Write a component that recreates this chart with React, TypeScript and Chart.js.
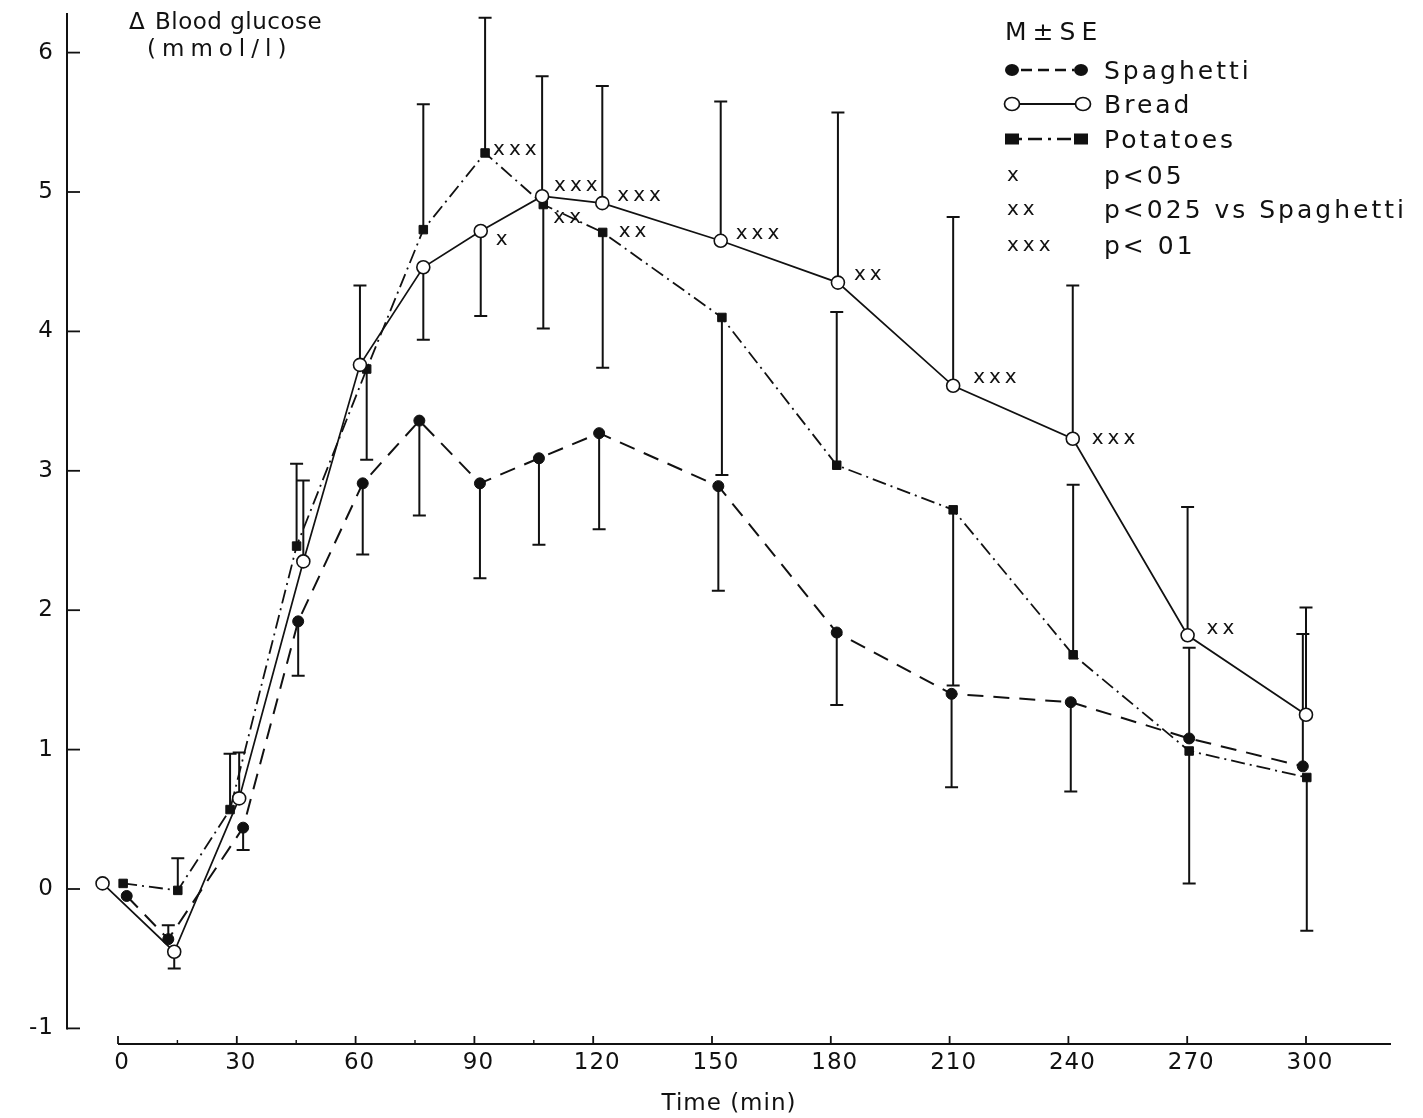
import { useEffect, useRef } from 'react';
import { Chart, registerables } from 'chart.js';

Chart.register(...registerables);

// ---------------- data ----------------
const seriesNames = ['Spaghetti', 'Bread', 'Potatoes'];

const spaghettiTime = [2.2, 12.7, 31.6, 45.5, 61.8, 76.1, 91.4, 106.3, 121.5, 151.6, 181.5, 210.5, 240.6, 270.5, 299.2];
const spaghettiValue = [-0.05, -0.36, 0.44, 1.92, 2.91, 3.36, 2.91, 3.09, 3.27, 2.89, 1.84, 1.4, 1.34, 1.08, 0.88];
const spaghettiErrUp = [0, 0.1, 0, 0, 0, 0, 0, 0, 0, 0, 0, 0, 0, 0.65, 0.95];
const spaghettiErrDown = [0, 0, 0.16, 0.39, 0.51, 0.68, 0.68, 0.62, 0.69, 0.75, 0.52, 0.67, 0.64, 0, 0];

const breadTime = [-3.9, 14.2, 30.6, 46.8, 61.1, 77.1, 91.6, 107.1, 122.3, 152.2, 181.8, 210.9, 241.1, 270.1, 300.0];
const breadValue = [0.04, -0.45, 0.65, 2.35, 3.76, 4.46, 4.72, 4.97, 4.92, 4.65, 4.35, 3.61, 3.23, 1.82, 1.25];
const breadErrUp = [0, 0, 0.33, 0.58, 0.57, 0, 0, 0.86, 0.84, 1.0, 1.22, 1.21, 1.1, 0.92, 0.77];
const breadErrDown = [0, 0.12, 0, 0, 0, 0.52, 0.61, 0, 0, 0, 0, 0, 0, 0, 0];

const potatoesTime = [1.3, 15.1, 28.3, 45.1, 62.8, 77.1, 92.7, 107.4, 122.4, 152.5, 181.5, 210.9, 241.2, 270.5, 300.2];
const potatoesValue = [0.04, -0.01, 0.57, 2.46, 3.73, 4.73, 5.28, 4.91, 4.71, 4.1, 3.04, 2.72, 1.68, 0.99, 0.8];
const potatoesErrUp = [0, 0.23, 0.4, 0.59, 0, 0.9, 0.97, 0, 0, 0, 1.1, 0, 1.22, 0, 0];
const potatoesErrDown = [0, 0, 0, 0, 0.65, 0, 0, 0.89, 0.97, 1.13, 0, 1.26, 0, 0.95, 1.1];

const xTickValues = [0, 30, 60, 90, 120, 150, 180, 210, 240, 270, 300];
const xMinorTickValues = [15, 45, 75, 105];
const yTickValues = [-1, 0, 1, 2, 3, 4, 5, 6];

const xAxisTitle = 'Time (min)';
const yAxisTitleSymbol = 'Δ';
const yAxisTitleLine1 = 'Blood glucose';
const yAxisTitleLine2 = '(mmol/l)';

const legendHeader = 'M±SE';
const sigSymbols = ['x', 'xx', 'xxx'];
const sigTexts = ['p<05', 'p<025 vs Spaghetti', 'p< 01'];

// significance marks next to points: series index, point index, number of x's
const sigMarkSeries = [2, 1, 1, 2, 1, 2, 1, 1, 1, 1, 1];
const sigMarkIndex = [6, 6, 7, 7, 8, 8, 9, 10, 11, 12, 13];
const sigMarkLevel = [3, 1, 3, 2, 3, 2, 3, 2, 3, 3, 2];

// ---------------- layout / style ----------------
const W = 1423;
const H = 1118;
const INK = '#111111';
const FONT = '"DejaVu Sans", "Liberation Sans", sans-serif';

const AREA_LEFT = 67;
const AREA_RIGHT = 1391;
const AREA_TOP = 13;
const AREA_BOTTOM = 1044;
const X0_PX = 118; // pixel of t = 0
const X_PX_PER_MIN = 3.96;
const Y0_PX = 889; // pixel of value 0
const Y_PX_PER_UNIT = 139.4;

const X_MIN = (AREA_LEFT - X0_PX) / X_PX_PER_MIN;
const X_MAX = (AREA_RIGHT - X0_PX) / X_PX_PER_MIN;
const Y_MAX = (Y0_PX - AREA_TOP) / Y_PX_PER_UNIT;
const Y_MIN = (Y0_PX - AREA_BOTTOM) / Y_PX_PER_UNIT;

const SIG_OFFSETS = [
  [8, -3], [15, 8], [12, -11], [10, 13], [15, -8], [16, -1],
  [15, -7], [16, -8], [20, -8], [19, 0], [19, -7],
];

const LINE_DASH: number[][] = [[16, 10], [], [14, 5, 2, 5]];

function drawMarker(ctx: CanvasRenderingContext2D, kind: number, x: number, y: number) {
  ctx.save();
  ctx.setLineDash([]);
  ctx.lineWidth = 1.7;
  ctx.strokeStyle = INK;
  if (kind === 0) {
    ctx.fillStyle = INK;
    ctx.beginPath();
    ctx.ellipse(x, y, 7, 6, 0, 0, Math.PI * 2);
    ctx.fill();
  } else if (kind === 1) {
    ctx.fillStyle = '#fff';
    ctx.beginPath();
    ctx.ellipse(x, y, 7.5, 6.5, 0, 0, Math.PI * 2);
    ctx.fill();
    ctx.stroke();
  } else {
    ctx.fillStyle = INK;
    ctx.fillRect(x - 7, y - 5.5, 14, 11);
  }
  ctx.restore();
}

function drawSpaced(ctx: CanvasRenderingContext2D, text: string, x: number, y: number, size: number, spacing: number) {
  ctx.save();
  ctx.font = `${size}px ${FONT}`;
  (ctx as any).letterSpacing = `${spacing}px`;
  ctx.fillStyle = INK;
  ctx.textAlign = 'left';
  ctx.textBaseline = 'alphabetic';
  ctx.fillText(text, x, y);
  ctx.restore();
}

const figurePlugin = {
  id: 'figurePlugin',
  beforeDraw(chart: any) {
    const ctx: CanvasRenderingContext2D = chart.ctx;
    ctx.save();
    ctx.fillStyle = '#ffffff';
    ctx.fillRect(0, 0, chart.width, chart.height);
    ctx.restore();
    (ctx as any).letterSpacing = '1px';
  },
  beforeDatasetsDraw(chart: any) {
    const ctx: CanvasRenderingContext2D = chart.ctx;
    const xs = chart.scales.x;
    const ys = chart.scales.y;
    ctx.save();
    ctx.strokeStyle = INK;
    ctx.lineWidth = 2;
    ctx.setLineDash([]);
    chart.data.datasets.forEach((ds: any) => {
      ds.data.forEach((p: any, i: number) => {
        const px = xs.getPixelForValue(p.x);
        const py = ys.getPixelForValue(p.y);
        const ends: number[] = [];
        if (ds.errUp[i] > 0) ends.push(ys.getPixelForValue(p.y + ds.errUp[i]));
        if (ds.errDown[i] > 0) ends.push(ys.getPixelForValue(p.y - ds.errDown[i]));
        ends.forEach((ey) => {
          ctx.beginPath();
          ctx.moveTo(px, py);
          ctx.lineTo(px, ey);
          ctx.moveTo(px - 6.5, ey);
          ctx.lineTo(px + 6.5, ey);
          ctx.stroke();
        });
      });
    });
    ctx.restore();
  },
  afterDraw(chart: any) {
    const ctx: CanvasRenderingContext2D = chart.ctx;
    const xs = chart.scales.x;
    const ys = chart.scales.y;
    const area = chart.chartArea;
    ctx.save();
    ctx.strokeStyle = INK;
    ctx.setLineDash([]);

    // y axis line and inward ticks
    ctx.lineWidth = 2;
    ctx.beginPath();
    ctx.moveTo(area.left, area.top);
    ctx.lineTo(area.left, ys.getPixelForValue(yTickValues[0]) + 1);
    ctx.stroke();
    ctx.lineWidth = 1.8;
    yTickValues.forEach((v) => {
      const py = ys.getPixelForValue(v);
      ctx.beginPath();
      ctx.moveTo(area.left, py);
      ctx.lineTo(area.left + 13, py);
      ctx.stroke();
    });

    // x axis line and inward ticks
    const x0 = xs.getPixelForValue(xTickValues[0]);
    ctx.lineWidth = 1.8;
    ctx.beginPath();
    ctx.moveTo(x0, area.bottom);
    ctx.lineTo(area.right, area.bottom);
    ctx.stroke();
    xTickValues.forEach((v) => {
      const px = xs.getPixelForValue(v);
      ctx.beginPath();
      ctx.moveTo(px, area.bottom);
      ctx.lineTo(px, area.bottom - 8);
      ctx.stroke();
    });
    ctx.lineWidth = 1.4;
    xMinorTickValues.forEach((v) => {
      const px = xs.getPixelForValue(v);
      ctx.beginPath();
      ctx.moveTo(px, area.bottom);
      ctx.lineTo(px, area.bottom - 4);
      ctx.stroke();
    });
    ctx.restore();

    // y axis title
    drawSpaced(ctx, yAxisTitleSymbol, 129, 29, 23, 0);
    drawSpaced(ctx, yAxisTitleLine1, 155, 29, 23, 0.5);
    drawSpaced(ctx, yAxisTitleLine2, 147, 56, 23, 6);

    // significance marks
    sigMarkSeries.forEach((s, k) => {
      const p = chart.data.datasets[s].data[sigMarkIndex[k]];
      const px = xs.getPixelForValue(p.x) + SIG_OFFSETS[k][0];
      const py = ys.getPixelForValue(p.y) + SIG_OFFSETS[k][1];
      drawSpaced(ctx, sigSymbols[sigMarkLevel[k] - 1], px, py + 5.5, 20, 4);
    });

    // legend
    drawSpaced(ctx, legendHeader, 1005, 40, 25, 6);
    const rowCenter = [70, 104, 139];
    seriesNames.forEach((name, i) => {
      const my = rowCenter[i];
      const xa = 1012;
      const xb = i === 1 ? 1083 : 1081;
      ctx.save();
      ctx.strokeStyle = INK;
      ctx.lineWidth = i === 1 ? 1.8 : 2.6;
      ctx.setLineDash(i === 0 ? [11, 6] : i === 2 ? [3, 6, 14, 6] : []);
      ctx.lineDashOffset = i === 0 ? -2 : 0;
      ctx.beginPath();
      ctx.moveTo(xa + 7, my);
      ctx.lineTo(xb - 7, my);
      ctx.stroke();
      ctx.restore();
      drawMarker(ctx, i, xa, my);
      drawMarker(ctx, i, xb, my);
      drawSpaced(ctx, name, 1104, my + 9, 25, 3);
    });
    const sigCenter = [175, 209, 245];
    sigSymbols.forEach((sym, i) => {
      drawSpaced(ctx, sym, 1007, sigCenter[i] + 6, 20, 4);
      drawSpaced(ctx, sigTexts[i], 1104, sigCenter[i] + 9, 25, 3);
    });
  },
};

function pts(t: number[], v: number[]) {
  return t.map((x, i) => ({ x, y: v[i] }));
}

export default function App() {
  const ref = useRef<HTMLCanvasElement>(null);

  useEffect(() => {
    if (!ref.current) return;
    const common = {
      borderColor: INK,
      pointBorderColor: INK,
      tension: 0,
      fill: false,
      clip: false as any,
    };
    const chart = new Chart(ref.current, {
      type: 'line',
      data: {
        datasets: [
          {
            ...common,
            label: seriesNames[0],
            data: pts(spaghettiTime, spaghettiValue),
            errUp: spaghettiErrUp,
            errDown: spaghettiErrDown,
            borderWidth: 2,
            borderDash: LINE_DASH[0],
            pointStyle: 'circle',
            pointRadius: 5.5,
            pointBackgroundColor: INK,
            pointBorderWidth: 1,
            order: 2,
          } as any,
          {
            ...common,
            label: seriesNames[1],
            data: pts(breadTime, breadValue),
            errUp: breadErrUp,
            errDown: breadErrDown,
            borderWidth: 1.7,
            borderDash: LINE_DASH[1],
            pointStyle: 'circle',
            pointRadius: 6.5,
            pointBackgroundColor: '#ffffff',
            pointBorderWidth: 1.6,
            order: 1,
          } as any,
          {
            ...common,
            label: seriesNames[2],
            data: pts(potatoesTime, potatoesValue),
            errUp: potatoesErrUp,
            errDown: potatoesErrDown,
            borderWidth: 1.8,
            borderDash: LINE_DASH[2],
            pointStyle: 'rect',
            pointRadius: 6,
            pointBackgroundColor: INK,
            pointBorderWidth: 1,
            order: 3,
          } as any,
        ],
      },
      options: {
        responsive: false,
        animation: false,
        devicePixelRatio: 1,
        events: [],
        layout: { padding: { top: AREA_TOP, right: W - AREA_RIGHT, left: 0, bottom: 0 } },
        plugins: {
          legend: { display: false },
          tooltip: { enabled: false },
          title: { display: false },
        },
        scales: {
          x: {
            type: 'linear',
            min: X_MIN,
            max: X_MAX,
            grid: { display: false, drawTicks: false },
            border: { display: false },
            afterBuildTicks: (s: any) => {
              s.ticks = xTickValues.map((v) => ({ value: v }));
            },
            afterFit: (s: any) => {
              s.height = H - AREA_BOTTOM;
              s.paddingLeft = 0;
              s.paddingRight = 0;
              s.paddingTop = 0;
              s.paddingBottom = 0;
            },
            ticks: {
              font: { family: FONT, size: 23 },
              color: INK,
              padding: 5,
              maxRotation: 0,
              autoSkip: false,
              labelOffset: 4,
            },
            title: {
              display: true,
              text: xAxisTitle,
              font: { family: FONT, size: 23 },
              color: INK,
              padding: 0,
            },
          },
          y: {
            type: 'linear',
            min: Y_MIN,
            max: Y_MAX,
            grid: { display: false, drawTicks: false },
            border: { display: false },
            afterBuildTicks: (s: any) => {
              s.ticks = yTickValues.map((v) => ({ value: v }));
            },
            afterFit: (s: any) => {
              s.width = AREA_LEFT;
              s.paddingLeft = 0;
              s.paddingRight = 0;
              s.paddingTop = 0;
              s.paddingBottom = 0;
            },
            ticks: {
              font: { family: FONT, size: 23 },
              color: INK,
              padding: 13,
              autoSkip: false,
            },
          },
        },
      },
      plugins: [figurePlugin],
    } as any);
    return () => chart.destroy();
  }, []);

  return (
    <div style={{ position: 'fixed', left: 0, top: 0, width: W, height: H, background: '#fff' }}>
      <canvas ref={ref} width={W} height={H} style={{ display: 'block', width: W, height: H }} />
    </div>
  );
}
